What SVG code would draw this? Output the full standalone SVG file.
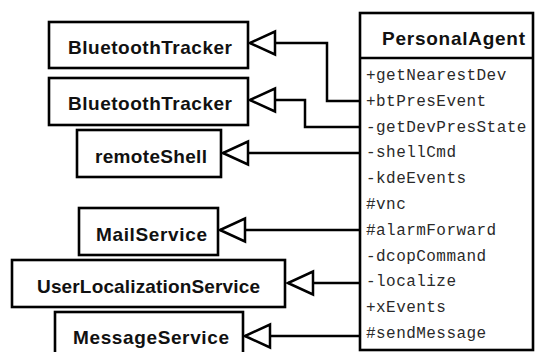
<svg xmlns="http://www.w3.org/2000/svg" width="536" height="352" viewBox="0 0 536 352">
<style>
.box{fill:#fff;stroke:#000;stroke-width:2.6}
.lbl{font-family:"Liberation Sans",Arial,sans-serif;font-weight:bold;font-size:19px;fill:#111}
.mem{font-family:"Liberation Mono","Courier New",monospace;font-size:16px;letter-spacing:0.45px;fill:#2a2a2a}
.conn{fill:none;stroke:#000;stroke-width:2.5;marker-end:url(#tri)}
</style>
<defs>
<marker id="tri" markerUnits="userSpaceOnUse" viewBox="-28 -14 30 28" markerWidth="30" markerHeight="28" refX="0" refY="0" orient="auto">
<path d="M0,0 L-25,-11.5 L-25,11.5 Z" fill="#fff" stroke="#000" stroke-width="2.5"/>
</marker>
</defs>
<rect width="536" height="352" fill="#fff"/>
<g id="connectors">
<path class="conn" d="M360,101 H327 V43 H250"/>
<path class="conn" d="M360,127 H305 V100 H250"/>
<path class="conn" d="M360,153 H223"/>
<path class="conn" d="M360,230 H220"/>
<path class="conn" d="M360,283 H288"/>
<path class="conn" d="M360,336 H245"/>
</g>
<g id="BluetoothTracker1">
<rect class="box" x="49" y="22" width="199" height="46"/>
<text class="lbl" x="68" y="54" textLength="164" lengthAdjust="spacing">BluetoothTracker</text>
</g>
<g id="BluetoothTracker2">
<rect class="box" x="49" y="78" width="199" height="47"/>
<text class="lbl" x="68" y="110" textLength="164" lengthAdjust="spacing">BluetoothTracker</text>
</g>
<g id="remoteShell">
<rect class="box" x="77" y="130" width="144" height="47"/>
<text class="lbl" x="95" y="163" textLength="112" lengthAdjust="spacing">remoteShell</text>
</g>
<g id="MailService">
<rect class="box" x="79" y="208" width="139" height="47"/>
<text class="lbl" x="96" y="241" textLength="111" lengthAdjust="spacing">MailService</text>
</g>
<g id="UserLocalizationService">
<rect class="box" x="12" y="260" width="273" height="47"/>
<text class="lbl" x="37" y="293" textLength="223" lengthAdjust="spacing">UserLocalizationService</text>
</g>
<g id="MessageService">
<rect class="box" x="55" y="312" width="188" height="44"/>
<text class="lbl" x="73" y="344" textLength="156" lengthAdjust="spacing">MessageService</text>
</g>
<g id="PersonalAgent">
<rect class="box" x="360" y="13" width="173" height="337"/>
<line x1="360" y1="58" x2="533" y2="58" stroke="#000" stroke-width="2.6"/>
<text class="lbl" x="382" y="45" textLength="143" lengthAdjust="spacing">PersonalAgent</text>
<text class="mem" x="366" y="80">+getNearestDev</text>
<text class="mem" x="366" y="105.8">+btPresEvent</text>
<text class="mem" x="366" y="131.6">-getDevPresState</text>
<text class="mem" x="366" y="157.4">-shellCmd</text>
<text class="mem" x="366" y="183.2">-kdeEvents</text>
<text class="mem" x="366" y="209">#vnc</text>
<text class="mem" x="366" y="234.8">#alarmForward</text>
<text class="mem" x="366" y="260.6">-dcopCommand</text>
<text class="mem" x="366" y="286.4">-localize</text>
<text class="mem" x="366" y="312.2">+xEvents</text>
<text class="mem" x="366" y="338">#sendMessage</text>
</g>
</svg>
